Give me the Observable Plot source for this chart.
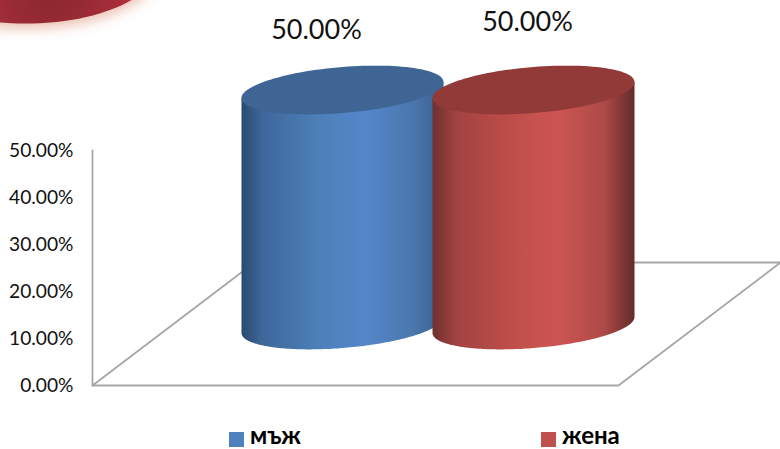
<!DOCTYPE html>
<html>
<head>
<meta charset="utf-8">
<script src="https://cdn.jsdelivr.net/npm/d3@7"></script>
<script src="https://cdn.jsdelivr.net/npm/@observablehq/plot@0.6"></script>
<style>
html,body{margin:0;padding:0;background:#fff;overflow:hidden}
#chart svg{display:block}
.banner{filter:drop-shadow(0 4px 7px #e8b8a6)}
#legend{position:relative;height:24px;font:bold 24px/20px Lato,sans-serif;color:#000}
#legend span{position:absolute;white-space:nowrap}
#legend i{position:absolute;width:15px;height:15px;top:7px}
</style>
</head>
<body>
<div id="chart"></div>
<div id="legend"></div>
<script>
const categories = ["мъж", "жена"];
const values = [50, 50];
const yTicks = [0, 10, 20, 30, 40, 50];
const sideColors = ["#4f81bd", "#c0504d"];
const topColors = ["#3f6595", "#913a38"];
const sideStops = [
  [[0,"#2a4a70"],[0.1,"#3e679a"],[0.4,"#4e81ba"],[0.62,"#5486ca"],[0.85,"#4a77ad"],[1,"#3b5f90"]],
  [[0,"#6e302e"],[0.12,"#a24340"],[0.45,"#c4504c"],[0.62,"#cc5552"],[0.85,"#ae4a47"],[0.95,"#7c3533"],[1,"#642c2a"]]
];

// geometry, in the chart's own scale units
const xFloor = {left: 92, right: 618, shift: 162};
const depth = 26.17;
const centers = [342, 533];
const halfWidth = 101, ellipseY = 4.9, tiltY = 1.7, baseY = 12.87;
const labelX = [316, 527];
const labelY = [75.5, 77.2];

const ellipse = (cx, cy, a, b, s, from = 0, to = 2 * Math.PI) =>
  d3.range(0, 121).map(i => {
    const t = from + (to - from) * i / 120;
    return {x: cx + a * Math.cos(t), y: cy + b * Math.sin(t) + s * Math.cos(t)};
  });

const cyl = values.map((v, i) => {
  const cx = centers[i];
  const lower = ellipse(cx, baseY, halfWidth, ellipseY, tiltY, Math.PI, 2 * Math.PI);
  const upper = [{x: cx + halfWidth, y: baseY + v + tiltY}, {x: cx - halfWidth, y: baseY + v - tiltY}];
  return {side: [...lower, ...upper], top: ellipse(cx, baseY + v, halfWidth, ellipseY, tiltY)};
});

const floorEdges = [
  {x: xFloor.left, y: 0},
  {x: xFloor.right, y: 0},
  {x: xFloor.right + xFloor.shift, y: depth},
  {x: xFloor.left + xFloor.shift, y: depth},
  {x: xFloor.left, y: 0}
];
const wall = [{x: xFloor.left, y: 0}, {x: xFloor.left, y: 50}];

const defs = () => {
  const s = d3.create("svg:defs");
  sideStops.forEach((st, i) => {
    const g = s.append("linearGradient").attr("id", "side" + i).attr("x1", 0).attr("x2", 1).attr("y1", 0).attr("y2", 0);
    st.forEach(([o, c]) => g.append("stop").attr("offset", o).attr("stop-color", c));
  });
  const r = s.append("radialGradient").attr("id", "bannerFill").attr("gradientUnits", "userSpaceOnUse")
    .attr("cx", 50).attr("cy", -8).attr("r", 95);
  [[0,"#8a2830"],[0.35,"#962a33"],[1,"#b5303f"]].forEach(([o, c]) => r.append("stop").attr("offset", o).attr("stop-color", c));
  return s.node();
};

const plot = Plot.plot({
  width: 780, height: 425,
  marginLeft: 92, marginRight: 0, marginTop: 0, marginBottom: 40,
  style: {background: "#fff", overflow: "hidden"},
  x: {domain: [92, 780], range: [92, 780], axis: null},
  y: {domain: [0, 50], range: [385, 150], axis: null},
  marks: [
    defs,
    Plot.line(ellipse(25, 90.4, 136, 13.4, 0), {x: "x", y: "y", fill: "url(#bannerFill)", stroke: "none", className: "banner"}),
    Plot.axisY({ticks: yTicks, anchor: "left", tickSize: 0, tickPadding: 19, label: null, dy: 0.8,
      tickFormat: d => d.toFixed(2) + "%", fontSize: 19.2, fill: "#111"}),
    Plot.line(wall, {x: "x", y: "y", stroke: "#a6a6a6", strokeWidth: 1.8}),
    Plot.line(floorEdges, {x: "x", y: "y", stroke: "#a6a6a6", strokeWidth: 1.8}),
    ...cyl.flatMap((c, i) => [
      Plot.line(c.side, {x: "x", y: "y", fill: `url(#side${i})`, stroke: "none"}),
      Plot.line(c.top, {x: "x", y: "y", fill: topColors[i], stroke: "none"})
    ]),
    Plot.text(values.map((v, i) => ({x: labelX[i], y: labelY[i], v})), {
      x: "x", y: "y", text: d => d.v.toFixed(2) + "%", fontSize: 27, fill: "#111"
    })
  ]
});
plot.querySelectorAll("text").forEach(t => t.style.fontFamily = "Lato, sans-serif");
document.getElementById("chart").append(plot);

const lg = document.getElementById("legend");
const legendX = [229, 541];
categories.forEach((c, i) => {
  const sw = document.createElement("i");
  sw.style.left = legendX[i] + "px";
  sw.style.background = sideColors[i];
  lg.append(sw);
  const sp = document.createElement("span");
  sp.textContent = c;
  sp.style.left = legendX[i] + 21 + "px";
  sp.style.top = "-0.5px";
  lg.append(sp);
});
</script>
</body>
</html>
